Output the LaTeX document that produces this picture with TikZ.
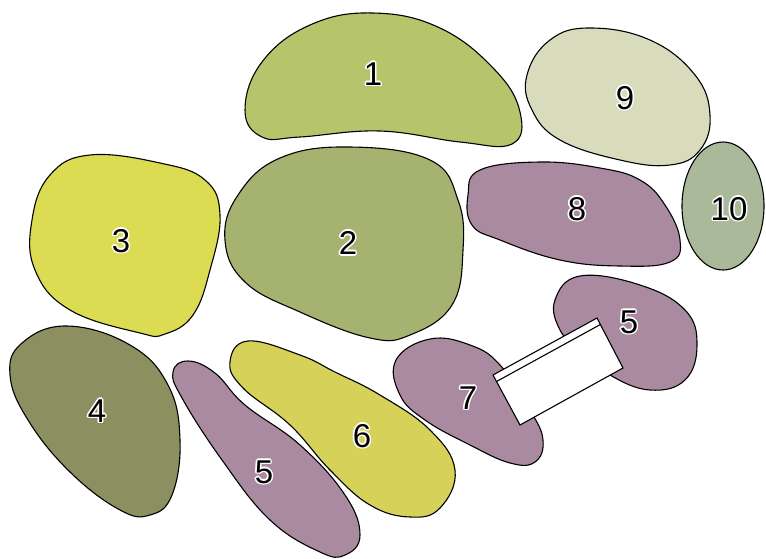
\documentclass[tikz,border=0pt]{standalone}
\usepackage{fontspec}
\usetikzlibrary{calc}
\setmainfont{Liberation Sans}
\definecolor{cOne}{HTML}{B6C46C}
\definecolor{cTwo}{HTML}{A6B270}
\definecolor{cThree}{HTML}{DCDC52}
\definecolor{cFour}{HTML}{8C9060}
\definecolor{cPurple}{HTML}{A98AA0}
\definecolor{cSix}{HTML}{D6D158}
\definecolor{cNine}{HTML}{D8DCBC}
\definecolor{cTen}{HTML}{A9B99A}
\newcommand{\halolabel}[3]{%
  \foreach \dx/\dy in {1.6/0,-1.6/0,0/1.6,0/-1.6,1.1/1.1,-1.1/1.1,1.1/-1.1,-1.1/-1.1}
    \node[lbl,text=white] at ([shift={(\dx,\dy)}]#2) {#3};
  \node[lbl] (#1) at (#2) {#3};}
\begin{document}
\begin{tikzpicture}[x=1pt,y=-1pt,
  blob/.style={draw=black,line width=1.1pt},
  lbl/.style={font=\fontsize{33}{33}\selectfont,inner sep=0pt,text=black}]
\useasboundingbox (0,0) rectangle (766,558);
% 1
\draw[blob,fill=cOne] plot[smooth cycle,tension=0.7] coordinates {(373,13) (440,28) (495,70) (520,112) (512,144) (460,142) (380,131) (300,137) (262,137) (245,110) (262,62) (310,25)};
% 2
\draw[blob,fill=cTwo] plot[smooth cycle,tension=0.7] coordinates {(350,147) (430,160) (458,200) (463,250) (452,305) (410,335) (370,338) (300,312) (245,282) (225,240) (238,195) (280,158)};
% 3
\draw[blob,fill=cThree] plot[smooth cycle,tension=0.7] coordinates {(90,155) (160,163) (205,180) (220,215) (210,270) (193,315) (165,334) (140,333) (70,310) (35,270) (32,220) (50,175)};
% 4
\draw[blob,fill=cFour] plot[smooth cycle,tension=0.7] coordinates {(67,326) (130,345) (168,385) (180,440) (172,495) (150,515) (120,510) (70,472) (28,420) (10,375) (22,343)};
% 5 lower
\draw[blob,fill=cPurple] plot[smooth cycle,tension=0.7] coordinates {(188,361) (215,373) (245,405) (300,445) (345,495) (360,535) (345,555) (320,552) (270,520) (222,460) (182,398) (173,372)};
% 6
\draw[blob,fill=cSix] plot[smooth cycle,tension=0.7] coordinates {(248,341) (300,355) (335,372) (380,395) (430,430) (455,470) (440,508) (410,517) (370,505) (330,470) (290,425) (243,388) (230,362)};
% 7
\draw[blob,fill=cPurple] plot[smooth cycle,tension=0.7] coordinates {(430,339) (470,345) (500,365) (530,410) (543,440) (535,462) (510,463) (470,445) (425,420) (400,395) (396,360)};
% 5 upper
\draw[blob,fill=cPurple] plot[smooth cycle,tension=0.7] coordinates {(580,276) (640,285) (685,310) (697,345) (685,380) (650,390) (610,375) (580,350) (560,330) (555,300)};
% 8
\draw[blob,fill=cPurple] plot[smooth cycle,tension=0.7] coordinates {(540,162) (600,168) (640,180) (665,205) (680,240) (670,262) (620,266) (560,260) (500,240) (472,225) (468,195) (480,170)};
% 9
\draw[blob,fill=cNine] plot[smooth cycle,tension=0.7] coordinates {(590,28) (650,40) (695,75) (710,115) (700,150) (670,165) (620,160) (560,140) (532,110) (527,75) (550,40)};
% 10
\draw[blob,fill=cTen] (723,206) ellipse [x radius=41, y radius=64];
% white connecting block
\coordinate (ra) at (493,375);
\coordinate (rb) at (597,318);
\coordinate (rc) at (623,368);
\coordinate (rd) at (520,425);
\draw[blob,fill=white] (ra) -- (rb) -- (rc) -- (rd) -- cycle;
\draw[line width=1.1pt] ($(ra)!0.13!(rd)$) -- ($(rb)!0.13!(rc)$);
% labels
\halolabel{l1}{373,74}{1}
\halolabel{l2}{348,243}{2}
\halolabel{l3}{121,241}{3}
\halolabel{l4}{97,411}{4}
\halolabel{l5a}{264,472}{5}
\halolabel{l6}{362,436}{6}
\halolabel{l7}{468,398}{7}
\halolabel{l5b}{629,322}{5}
\halolabel{l8}{577,209}{8}
\halolabel{l9}{625,98}{9}
\halolabel{l10}{729,209}{10}
\end{tikzpicture}
\end{document}
